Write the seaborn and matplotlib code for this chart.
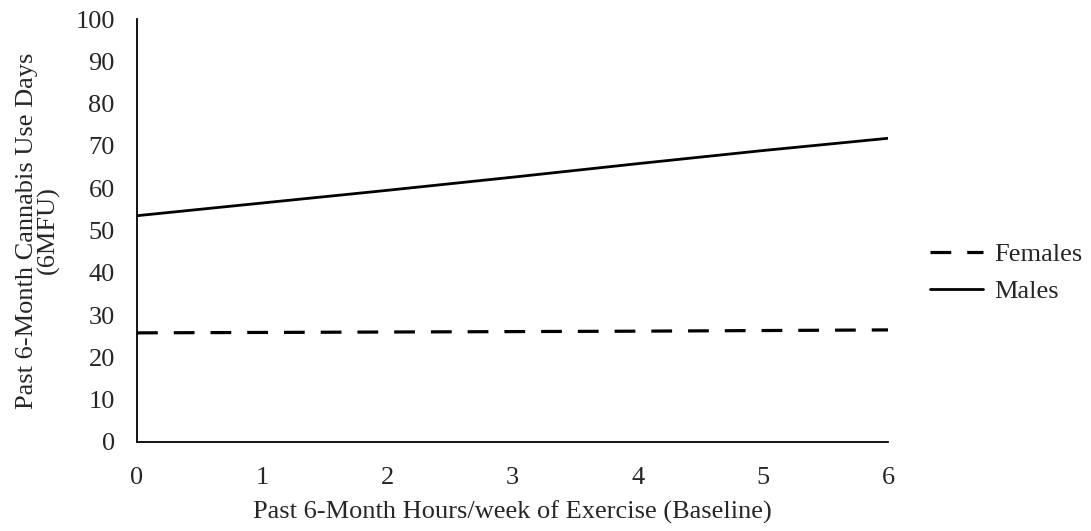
import matplotlib
matplotlib.use("Agg")
import matplotlib.pyplot as plt
import seaborn as sns
import pandas as pd

hours = [0, 1, 2, 3, 4, 5, 6]
females = [25.8, 25.9, 26.0, 26.1, 26.2, 26.35, 26.5]
males = [53.5, 56.5, 59.5, 62.6, 65.8, 68.9, 71.8]
series_names = ["Females", "Males"]
x_ticks = [0, 1, 2, 3, 4, 5, 6]
y_ticks = [0, 10, 20, 30, 40, 50, 60, 70, 80, 90, 100]

sns.set_style("white")
plt.rcParams['font.family'] = ['Liberation Serif', 'DejaVu Serif']

FS = 19

df = pd.DataFrame({
    "hours": hours * 2,
    "value": females + males,
    "sex": [series_names[0]] * len(hours) + [series_names[1]] * len(hours),
})

fig = plt.figure(figsize=(10.91, 5.31), dpi=100)
ax = fig.add_axes([0.1256, 1 - 442 / 531, 0.8140 - 0.1256, (442 - 19) / 531])

sub_f = df[df["sex"] == "Females"]
sub_m = df[df["sex"] == "Males"]
sns.lineplot(data=sub_f, x="hours", y="value", ax=ax, color="black",
             linewidth=2.3, label="Females")
sns.lineplot(data=sub_m, x="hours", y="value", ax=ax, color="black",
             linewidth=2.0, label="Males")
ax.lines[0].set_dashes([6.5, 5.0])

ax.set_xlim(0, 6)
ax.set_ylim(0, 100)
ax.set_xticks(x_ticks)
ax.set_yticks(y_ticks)
ax.set_xticklabels([str(t) for t in x_ticks], fontsize=FS)
ax.set_yticklabels([str(t) for t in y_ticks], fontsize=FS)
ax.tick_params(axis="y", direction="out", length=7, width=1.2, color="black", pad=9)
ax.tick_params(axis="x", direction="in", length=6, width=1.2, color="black", pad=18)

for s in ["top", "right"]:
    ax.spines[s].set_visible(False)
for s in ["left", "bottom"]:
    ax.spines[s].set_color("black")
    ax.spines[s].set_linewidth(1.3)

ax.set_xlabel("Past 6-Month Hours/week of Exercise (Baseline)", fontsize=FS, labelpad=8)
ax.set_ylabel("Past 6-Month Cannabis Use Days\n(6MFU)", fontsize=FS, labelpad=11, linespacing=0.95)

ax.get_legend().remove()
handles = ax.lines[:2]
leg = fig.legend(handles, series_names, loc="center left",
                 bbox_to_anchor=(0.8427, 0.486), frameon=False, fontsize=FS,
                 handlelength=2.0, handletextpad=0.45, labelspacing=0.5,
                 borderaxespad=0)

fig.savefig("out.png", dpi=100, facecolor="white")
